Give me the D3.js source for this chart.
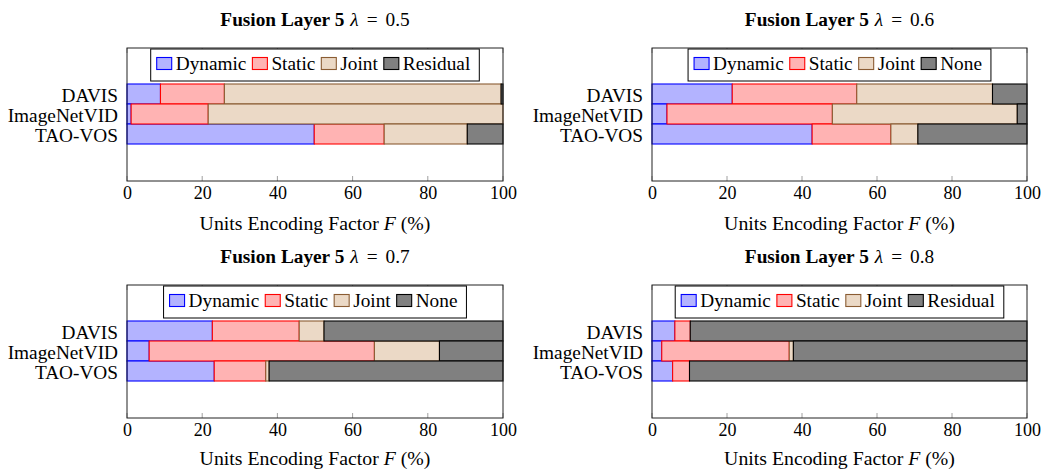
<!DOCTYPE html>
<html><head><meta charset="utf-8">
<script src="https://cdn.jsdelivr.net/npm/d3@7"></script>
<style>body{margin:0;background:#fff}svg{display:block}text{font-family:"Liberation Serif","Times New Roman",serif;fill:#000}</style>
</head><body><svg id="c" width="1045" height="470"></svg>
<script>
const categories = ["DAVIS", "ImageNetVID", "TAO-VOS"];
const lambdas = ["0.5", "0.6", "0.7", "0.8"];
const seriesNames = ["Dynamic", "Static", "Joint"];
const lastSeriesNames = ["Residual", "None", "None", "Residual"];
const xTicks = [0, 20, 40, 60, 80, 100];
// values per panel, per category (DAVIS, ImageNetVID, TAO-VOS)
const dynamicVals = [[8.9, 1.1, 49.8], [21.4, 4.0, 42.7], [22.7, 5.9, 23.2], [6.1, 2.6, 5.5]];
const staticVals  = [[17.0, 20.5, 18.6], [33.2, 44.1, 21.0], [23.1, 59.9, 13.7], [4.1, 34.0, 4.5]];
const jointVals   = [[73.6, 78.4, 22.1], [36.2, 49.3, 7.2], [6.6, 17.3, 0.9], [0.0, 1.1, 0.0]];
const residualVals= [[0.5, 0.0, 9.5], [9.2, 2.6, 29.1], [47.6, 16.9, 62.2], [89.8, 62.3, 90.0]];

const fills = ["#b3b3ff", "#ffb3b3", "#ebd9c6", "#808080"];
const strokes = ["#0000ff", "#ff0000", "#8a5c33", "#000000"];

const panels = [
  {x0: 127, x1: 503, y0: 48, y1: 181},
  {x0: 652, x1: 1027, y0: 48, y1: 181},
  {x0: 127, x1: 503, y0: 285, y1: 418},
  {x0: 652, x1: 1027, y0: 285, y1: 418}
];
const FS = 19.3;

const svg = d3.select("#c");

panels.forEach((p, pi) => {
  const g = svg.append("g");
  const x = d3.scaleLinear().domain([0, 100]).range([p.x0, p.x1]);
  const y = d3.scaleBand().domain(categories).range([p.y0 + 36, p.y0 + 96]).padding(0);

  g.append("rect").attr("x", p.x0).attr("y", p.y0).attr("width", p.x1 - p.x0).attr("height", p.y1 - p.y0)
    .attr("fill", "#fff");

  const stackData = categories.map((c, i) => ({
    cat: c,
    Dynamic: dynamicVals[pi][i], Static: staticVals[pi][i], Joint: jointVals[pi][i], Rest: residualVals[pi][i]
  }));
  const keys = ["Dynamic", "Static", "Joint", "Rest"];
  const stacked = d3.stack().keys(keys)(stackData);
  stacked.forEach((layer, li) => {
    g.append("g").selectAll("rect").data(layer).join("rect")
      .attr("x", d => x(d[0]))
      .attr("y", d => y(d.data.cat))
      .attr("width", d => Math.max(0, x(d[1]) - x(d[0])))
      .attr("height", y.bandwidth())
      .attr("fill", fills[li])
      .attr("stroke", strokes[li])
      .attr("stroke-width", 1.1)
      .attr("display", d => (d[1] - d[0]) > 0 ? null : "none");
  });

  const tg = g.append("g");
  xTicks.forEach(t => {
    tg.append("line").attr("x1", x(t)).attr("x2", x(t)).attr("y1", p.y1).attr("y2", p.y1 - 5)
      .attr("stroke", "#888").attr("stroke-width", 0.8);
    tg.append("line").attr("x1", x(t)).attr("x2", x(t)).attr("y1", p.y0).attr("y2", p.y0 + 5)
      .attr("stroke", "#888").attr("stroke-width", 0.8);
  });

  const axis = d3.axisBottom(x).tickValues(xTicks).tickSize(0).tickPadding(0).tickFormat(d3.format("d"));
  const ag = g.append("g").attr("transform", `translate(0,${p.y1 + 14})`).call(axis);
  ag.select(".domain").remove();
  ag.selectAll("text").attr("font-size", 18).attr("font-family", "Liberation Serif").attr("fill", "#000")
    .attr("dy", 0).attr("y", 0).attr("dominant-baseline", "middle");

  g.append("rect").attr("x", p.x0).attr("y", p.y0).attr("width", p.x1 - p.x0).attr("height", p.y1 - p.y0)
    .attr("fill", "none").attr("stroke", "#222").attr("stroke-width", 1);

  g.append("g").selectAll("text").data(categories).join("text")
    .attr("x", p.x0 - 9)
    .attr("y", d => y(d) + y.bandwidth() / 2 + 7.5)
    .attr("text-anchor", "end").attr("font-size", FS).text(d => d);

  const at = g.append("text").attr("x", (p.x0 + p.x1) / 2).attr("y", p.y1 + (pi < 2 ? 49 : 47))
    .attr("text-anchor", "middle").attr("font-size", 19.8);
  at.append("tspan").text("Units Encoding Factor ");
  at.append("tspan").attr("font-style", "italic").text("F");
  at.append("tspan").text(" (%)");

  const tt = g.append("text").attr("x", (p.x0 + p.x1) / 2).attr("y", p.y0 - 22)
    .attr("text-anchor", "middle").attr("font-size", FS);
  tt.append("tspan").attr("font-weight", "bold").text("Fusion Layer 5");
  tt.append("tspan").attr("font-style", "italic").attr("dx", 6).text("λ");
  tt.append("tspan").attr("dx", 8).text("=");
  tt.append("tspan").attr("dx", 8).text(lambdas[pi]);

  const names = seriesNames.concat([lastSeriesNames[pi]]);
  const lg = g.append("g");
  const box = lg.append("rect").attr("fill", "#fff").attr("stroke", "#000").attr("stroke-width", 1);
  let cx = 0;
  names.forEach((n, i) => {
    const it = lg.append("g");
    it.append("rect").attr("x", cx).attr("y", -6).attr("width", 15).attr("height", 12)
      .attr("fill", fills[i]).attr("stroke", strokes[i]).attr("stroke-width", 1.1);
    const t = it.append("text").attr("x", cx + 19).attr("y", 6.5).attr("font-size", FS).text(n);
    const w = t.node().getComputedTextLength();
    cx += 19 + w + 6;
  });
  const contentW = cx - 6;
  const padL = 6, padR = 9;
  const bw = contentW + padL + padR;
  const bx = (p.x0 + p.x1) / 2 - bw / 2;
  box.attr("x", -padL).attr("y", -14.5).attr("width", bw).attr("height", 32);
  lg.attr("transform", `translate(${bx + padL},${p.y0 + 15.5})`);
});
</script></body></html>
